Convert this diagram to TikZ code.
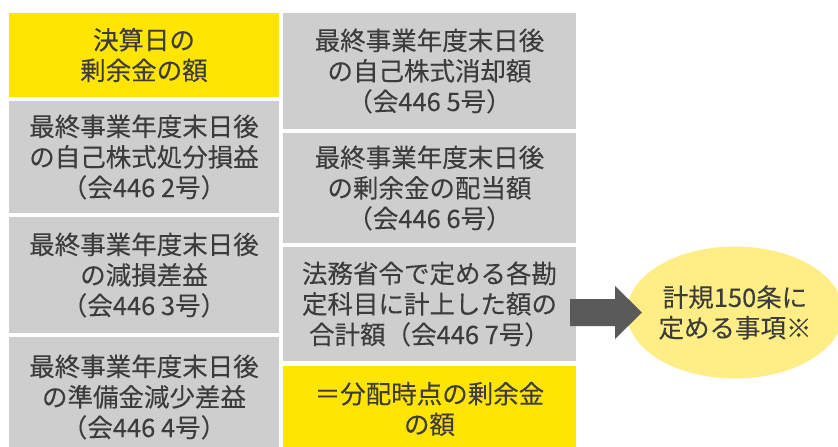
\documentclass[tikz,border=0pt]{standalone}
\usepackage{fontspec}
\setmainfont[BoldFont={Noto Sans CJK JP},BoldFeatures={FakeBold=0.12}]{Noto Sans CJK JP}
\usetikzlibrary{shapes.geometric,calc}
\definecolor{ybox}{HTML}{FFE500}
\definecolor{gbox}{HTML}{CECECE}
\definecolor{txt}{HTML}{3C3C3C}
\definecolor{arr}{HTML}{5A5A5A}
\definecolor{ell}{HTML}{FFEE85}
\begin{document}
\begin{tikzpicture}[x=1pt,y=-1pt,
  box/.style={rectangle, inner sep=0pt, outer sep=0pt, align=center, text=txt,
    font=\fontsize{25.5}{30.5}\selectfont\bfseries},
  lcol/.style={box, minimum width=270pt},
  rcol/.style={box, minimum width=293pt},
  ybx/.style={fill=ybox},
  gbx/.style={fill=gbox},
  note/.style={ellipse, fill=ell, inner sep=0pt, minimum width=214pt, minimum height=132pt,
    align=center, text=txt, font=\fontsize{25.5}{30.5}\selectfont\bfseries},
  blockarrow/.style={fill=arr}]
\useasboundingbox (0,0) rectangle (838,447);
\fill[white] (0,0) rectangle (838,447);
% left column
\node[lcol, ybx, minimum height=84pt]  (b1) at (144,55)    {決算日の\\剰余金の額};
\node[lcol, gbx, minimum height=112pt] (b2) at (144,157)   {最終事業年度末日後\\の自己株式処分損益\\（会446 2号）};
\node[lcol, gbx, minimum height=116pt] (b3) at (144,275)   {最終事業年度末日後\\の減損差益\\（会446 3号）};
\node[lcol, gbx, minimum height=120pt] (b4) at (144,397)   {最終事業年度末日後\\の準備金減少差益\\（会446 4号）};
% right column
\node[rcol, gbx, minimum height=116pt] (b5) at (429.5,71)  {最終事業年度末日後\\の自己株式消却額\\（会446 5号）};
\node[rcol, gbx, minimum height=110pt] (b6) at (429.5,188) {最終事業年度末日後\\の剰余金の配当額\\（会446 6号）};
\node[rcol, gbx, minimum height=114pt] (b7) at (429.5,304) {法務省令で定める各勘\\定科目に計上した額の\\合計額（会446 7号）};
\node[rcol, ybx, minimum height=86pt]  (b8) at (429.5,409) {＝分配時点の剰余金\\の額};
% ellipse
\node[note] (e) at (735,312.5) {計規150条に\\定める事項※};
% block arrow from b7 to e
\coordinate (as) at ([xshift=-6pt]b7.east |- e.center);
\fill[blockarrow] ($(as)+(0,-13.5)$) -- ++(45,0) -- ++(0,-13) -- ++(27,26.5)
  -- ++(-27,26.5) -- ++(0,-13) -- ++(-45,0) -- cycle;
\end{tikzpicture}
\end{document}
